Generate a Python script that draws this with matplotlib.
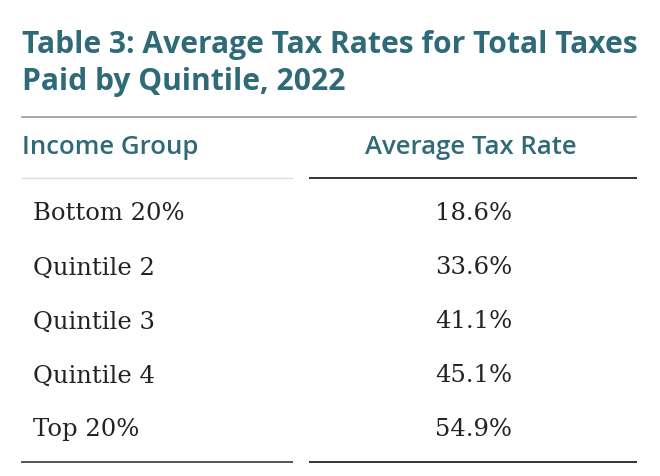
import matplotlib.pyplot as plt
from matplotlib.lines import Line2D

title_lines = ["Table 3: Average Tax Rates for Total Taxes", "Paid by Quintile, 2022"]
col_headers = ["Income Group", "Average Tax Rate"]
groups = ["Bottom 20%", "Quintile 2", "Quintile 3", "Quintile 4", "Top 20%"]
rates = [18.6, 33.6, 41.1, 45.1, 54.9]

W, H = 660, 477
teal = "#2f6a78"
fig = plt.figure(figsize=(W / 100, H / 100), dpi=100)


def fx(x):
    return x / W


def fy(y):
    return 1 - y / H


def hline(x1, x2, y, color, lw):
    fig.add_artist(Line2D([fx(x1), fx(x2)], [fy(y), fy(y)], color=color, lw=lw,
                          transform=fig.transFigure))


for i, t in enumerate(title_lines):
    fig.text(fx(22), fy(45 + i * 37), t, color=teal, fontsize=21.6, fontweight="bold",
             family="Open Sans", va="center", ha="left")

hline(22, 636, 118, "#999999", 1.2)
fig.text(fx(22), fy(148), col_headers[0], color=teal, fontsize=18.5, fontweight="semibold",
         family="Open Sans", va="center", ha="left")
fig.text(fx(471), fy(148), col_headers[1], color=teal, fontsize=18.5, fontweight="semibold",
         family="Open Sans", va="center", ha="center")
hline(22, 292, 179, "#dddddd", 1.0)
hline(310, 636, 179, "#333333", 1.4)

for i, (g, r) in enumerate(zip(groups, rates)):
    y = 214 + i * 54
    fig.text(fx(33), fy(y), g, fontsize=17.5, family="DejaVu Serif", color="#222222",
             va="center", ha="left")
    fig.text(fx(512), fy(y), f"{r:.1f}%", fontsize=17.5, family="DejaVu Serif",
             color="#222222", va="center", ha="right")

hline(22, 292, 463, "#555555", 1.4)
hline(310, 636, 463, "#333333", 1.4)

fig.savefig("out.png", dpi=100, facecolor="white")
